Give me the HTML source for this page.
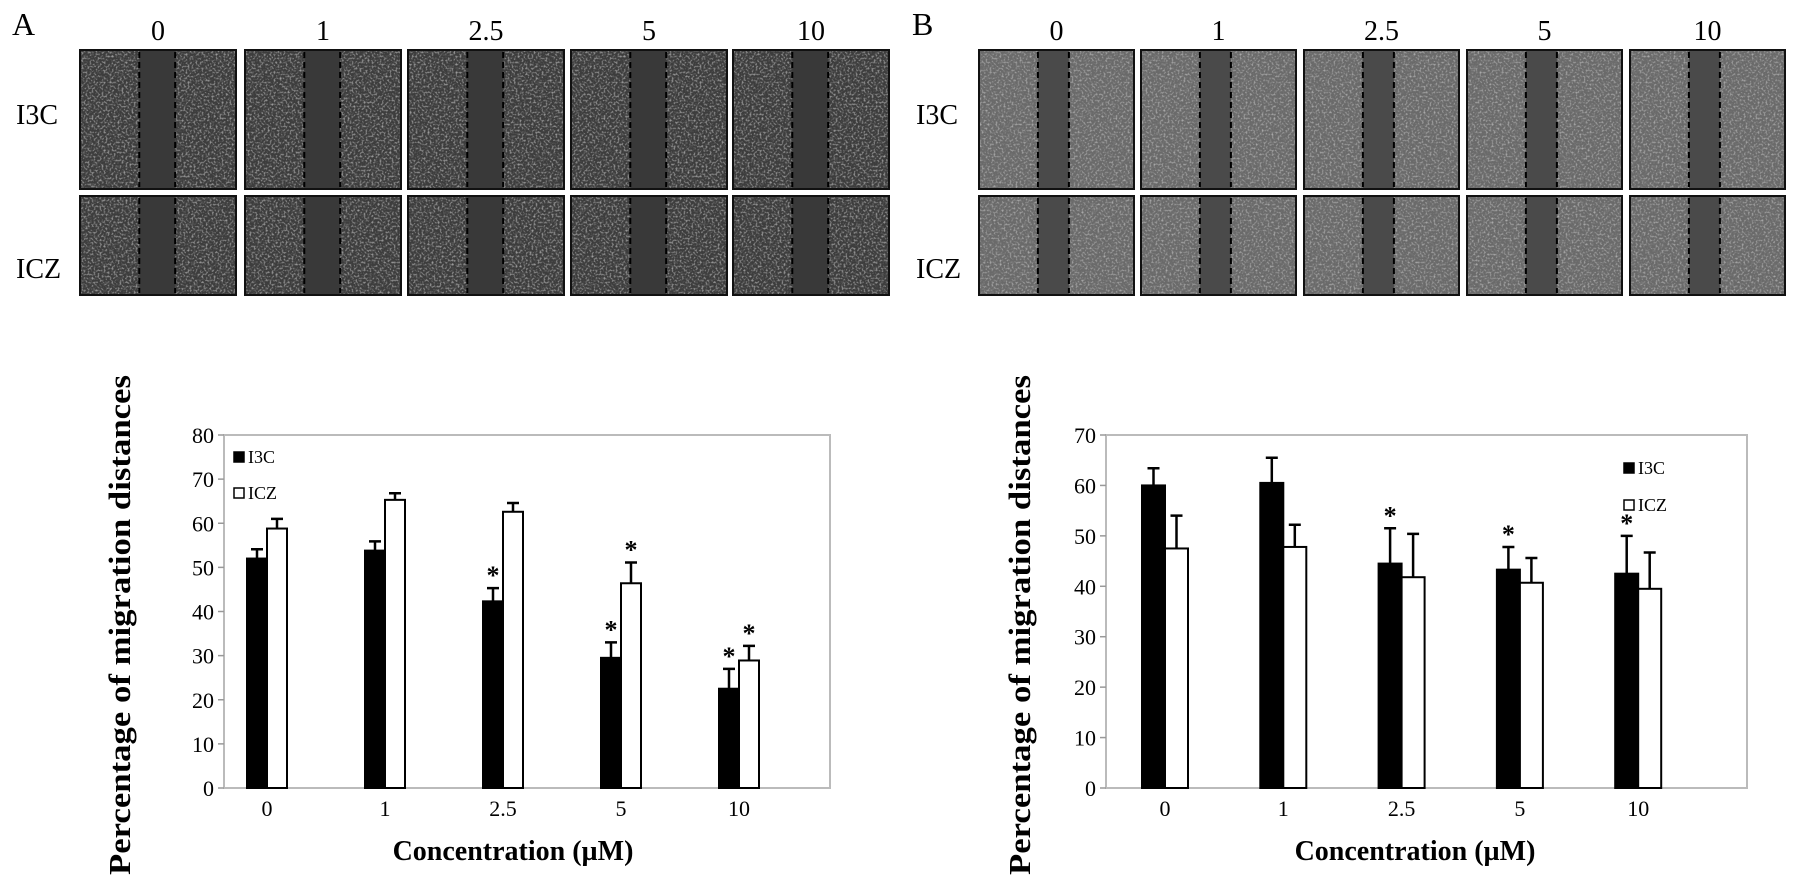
<!DOCTYPE html>
<html><head><meta charset="utf-8"><style>
html,body{margin:0;padding:0;background:#fff;}
svg{display:block;font-family:"Liberation Serif",serif;}
</style></head><body>
<svg id="fig" width="1795" height="883" viewBox="0 0 1795 883">
<defs>
<filter id="grain" x="0" y="0" width="100%" height="100%">
<feTurbulence type="fractalNoise" baseFrequency="0.5" numOctaves="2" seed="3" result="n"/>
<feColorMatrix in="n" type="matrix" values="0 0 0 0 1  0 0 0 0 1  0 0 0 0 1  0 0 0 0.9 -0.45" result="dots"/>
<feComposite in="dots" in2="SourceGraphic" operator="in" result="d2"/>
<feMerge><feMergeNode in="SourceGraphic"/><feMergeNode in="d2"/></feMerge>
</filter>
</defs>
<g id="micro"></g>
<g id="chartA"></g>
<g id="chartB"></g>
</svg>
<script>
// Shared categories
const categories = ["0", "1", "2.5", "5", "10"];
// Chart A data
const aTicks = [0, 10, 20, 30, 40, 50, 60, 70, 80];
const aI3C = [52, 53.8, 42.3, 29.5, 22.5];
const aI3CErr = [2.1, 2.1, 3.0, 3.5, 4.5];
const aICZ = [58.8, 65.3, 62.6, 46.4, 28.9];
const aICZErr = [2.2, 1.5, 2.0, 4.7, 3.3];
const aI3CStar = [false, false, true, true, true];
const aICZStar = [false, false, false, true, true];
// Chart B data
const bTicks = [0, 10, 20, 30, 40, 50, 60, 70];
const bI3C = [60, 60.5, 44.5, 43.3, 42.5];
const bI3CErr = [3.4, 5.0, 7.0, 4.5, 7.5];
const bICZ = [47.5, 47.8, 41.8, 40.7, 39.5];
const bICZErr = [6.5, 4.4, 8.6, 4.9, 7.2];
const bI3CStar = [false, false, true, true, true];
const bICZStar = [false, false, false, false, false];

const NS = "http://www.w3.org/2000/svg";
function mk(parent, tag, attrs, text) {
  const e = document.createElementNS(NS, tag);
  for (const k in attrs) e.setAttribute(k, attrs[k]);
  if (text !== undefined) e.textContent = text;
  parent.appendChild(e);
  return e;
}

// ---- micrographs ----
const micro = document.getElementById("micro");
function panel(ox, boxX, boxW, letter, light) {
  const L = mk(micro, "text", {x: ox, y: 35, "font-size": 32}, letter);
  
  
  categories.forEach((c, i) => {
    const t = mk(micro, "text", {x: boxX[i] + boxW / 2, y: 40, "font-size": 28, "text-anchor": "middle"}, c);
    
    
  });
  const rows = [{y: 50, h: 139, lab: "I3C", ly: 124}, {y: 196, h: 99, lab: "ICZ", ly: 278}];
  rows.forEach((r, ri) => {
    const t = mk(micro, "text", {x: ox + 4, y: r.ly, "font-size": 28}, r.lab);
    
    
    boxX.forEach((bx, i) => {
      const g = mk(micro, "g", {});
      
      
      const base = light ? "#6a6a6a" : "#3e3e3e";
      mk(g, "rect", {x: bx, y: r.y, width: boxW, height: r.h, fill: base, filter: "url(#grain)"});
      const x1 = bx + boxW * 0.38, x2 = bx + boxW * (light ? 0.58 : 0.61);
      mk(g, "rect", {x: x1, y: r.y, width: x2 - x1, height: r.h, fill: light ? "#4a4a4a" : "#393939"});
      [x1, x2].forEach(xx => mk(g, "line", {x1: xx, y1: r.y + 2, x2: xx, y2: r.y + r.h - 2, stroke: "#000", "stroke-width": 2, "stroke-dasharray": "6,4"}));
      mk(g, "rect", {x: bx, y: r.y, width: boxW, height: r.h, fill: "none", stroke: "#111", "stroke-width": 2});
    });
  });
}
panel(12, [80, 245, 408, 571, 733], 156, "A", false);
panel(912, [979, 1141, 1304, 1467, 1630], 155, "B", true);

// ---- charts ----
function chart(gid, cfg) {
  const g = document.getElementById(gid);
  const {left, right, top, bottom, ymax, ticks, s1, e1, s2, e2, st1, st2, c0, step, bw} = cfg;
  const yS = v => bottom - (v / ymax) * (bottom - top);
  const xC = i => c0 + step * i;
  const frame = mk(g, "rect", {x: left, y: top, width: right - left, height: bottom - top, fill: "none", stroke: "#bbb", "stroke-width": 2});
  
  
  ticks.forEach(t => {
    const y = yS(t);
    mk(g, "line", {x1: left - 6, y1: y, x2: left, y2: y, stroke: "#999", "stroke-width": 1.5});
    const tl = mk(g, "text", {x: left - 10, y: y + 8, "font-size": 22, "text-anchor": "end"}, t);
    
    
  });
  categories.forEach((c, i) => {
    const tl = mk(g, "text", {x: xC(i), y: bottom + 28, "font-size": 22, "text-anchor": "middle"}, c);
    
    
    [[s1, e1, st1, -1, "#000"], [s2, e2, st2, 0, "#fff"]].forEach(([s, e, st, off, fill], si) => {
      const x = xC(i) + off * bw;
      const yv = yS(s[i]), ye = yS(s[i] + e[i]);
      const eb = mk(g, "path", {d: `M${x + bw / 2} ${yv}V${ye}M${x + bw / 2 - 6} ${ye}H${x + bw / 2 + 6}`, stroke: "#000", "stroke-width": 2.5, fill: "none"});
      
      
      const b = mk(g, "rect", {x: x, y: yv, width: bw, height: bottom - yv, fill: fill, stroke: "#000", "stroke-width": 2});
      
      
      if (st[i]) {
        const s_ = mk(g, "text", {x: x + bw / 2, y: ye - 4, "font-size": 26, "font-weight": "bold", "text-anchor": "middle"}, "*");
        
        
      }
    });
  });
  // legend
  const lg = mk(g, "g", {});
  
  
  [["I3C", "#000", cfg.legY[0]], ["ICZ", "#fff", cfg.legY[1]]].forEach(([lab, f, y]) => {
    mk(lg, "rect", {x: cfg.legX, y: y - 6, width: 10, height: 10, fill: f, stroke: "#000", "stroke-width": 1.5});
    const t = mk(lg, "text", {x: cfg.legX + 14, y: y + 5, "font-size": 18}, lab);
    
    
  });
  const yt = mk(g, "text", {x: 0, y: 0, "font-size": 31, "font-weight": "bold", "text-anchor": "middle",
    transform: `translate(${cfg.ytX},625) rotate(-90)`, textLength: 500, lengthAdjust: "spacingAndGlyphs"}, "Percentage of migration distances");
  
  
  const xt = mk(g, "text", {x: cfg.xtX, y: 860, "font-size": 28, "font-weight": "bold", "text-anchor": "middle"}, "Concentration (\u00b5M)");
  
  
}
chart("chartA", {left: 224, right: 830, top: 435, bottom: 788, ymax: 80, ticks: aTicks,
  c0: 267, step: 118, bw: 20,
  s1: aI3C, e1: aI3CErr, s2: aICZ, e2: aICZErr, st1: aI3CStar, st2: aICZStar,
  legX: 234, legY: [458, 494], ytX: 130, xtX: 513});
chart("chartB", {left: 1106, right: 1747, top: 435, bottom: 788, ymax: 70, ticks: bTicks,
  c0: 1165, step: 118.3, bw: 23,
  s1: bI3C, e1: bI3CErr, s2: bICZ, e2: bICZErr, st1: bI3CStar, st2: bICZStar,
  legX: 1624, legY: [469, 506], ytX: 1030, xtX: 1415});
</script>
</body></html>
